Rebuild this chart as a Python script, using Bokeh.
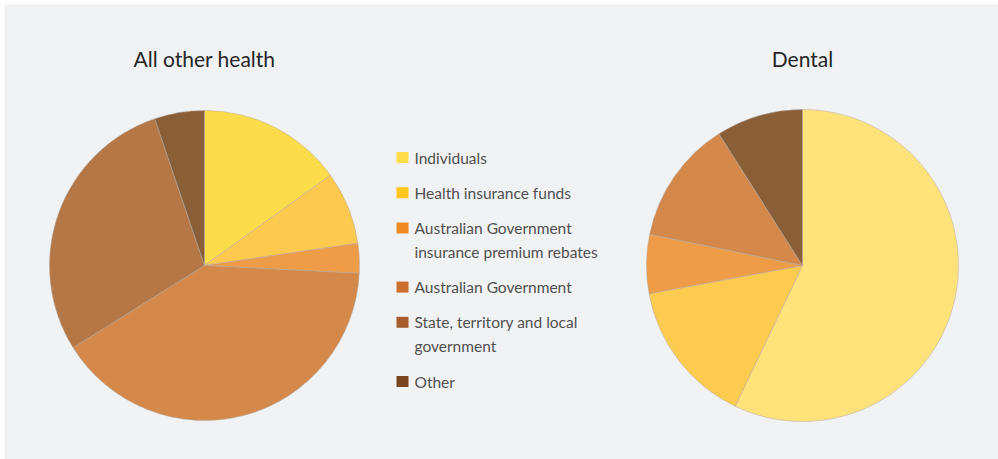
import math
from bokeh.plotting import figure
from bokeh.models import ColumnDataSource, Range1d
from bokeh.core.properties import value
from bokeh.embed import file_html
from bokeh.resources import INLINE

# ---- data ----
categories = [
    "Individuals",
    "Health insurance funds",
    "Australian Government\ninsurance premium rebates",
    "Australian Government",
    "State, territory and local\ngovernment",
    "Other",
]
all_other_health = [15.1, 7.6, 3.1, 40.3, 28.7, 5.2]
dental = [57.1, 15.0, 6.1, 12.8, 0.0, 9.0]
titles = ["All other health", "Dental"]

# ---- styles ----
legend_colors = ["#FFDD4A", "#FFC61E", "#F08A26", "#CC6E2E", "#A95D2D", "#7A4622"]
left_colors = ["#FDDC4B", "#FDC94E", "#EE9C48", "#D4884A", "#B57746", "#8A5E36"]
right_colors = ["#FFE27A", "#FDCB50", "#EE9C48", "#D4884A", "#B57746", "#8A5E36"]
FONT = "Lato"
W, H = 998, 459

p = figure(width=W, height=H, output_backend="svg", toolbar_location=None,
           x_range=Range1d(4, W), y_range=Range1d(0, H - 4),
           x_axis_location=None, y_axis_location=None,
           min_border_left=4, min_border_top=4, min_border_right=0, min_border_bottom=0)
p.grid.visible = False
p.outline_line_color = None
p.border_fill_color = "white"
p.background_fill_color = "#F1F2F4"


def sy(screen_y):
    return H - screen_y


def add_pie(vals, colors, cx, cy, r):
    total = float(sum(vals))
    starts, ends, cols = [], [], []
    cum = 0.0
    for v, c in zip(vals, colors):
        if v <= 0:
            continue
        a0 = math.pi / 2 - 2 * math.pi * (cum + v) / total
        a1 = math.pi / 2 - 2 * math.pi * cum / total
        starts.append(a0)
        ends.append(a1)
        cols.append(c)
        cum += v
    src = ColumnDataSource(dict(x=[cx] * len(starts), y=[cy] * len(starts),
                                start=starts, end=ends, color=cols))
    p.wedge(x="x", y="y", radius=r, start_angle="start", end_angle="end",
            fill_color="color", line_color="#B3ADA4", line_width=0.5,
            source=src)


add_pie(all_other_health, left_colors, 204, sy(265), 155)
add_pie(dental, right_colors, 802, sy(265), 156)

# titles
p.text(x=[204, 802], y=[sy(58), sy(58)], text=titles,
       text_font=value(FONT), text_font_size="21px", text_color="#262626",
       text_align="center", text_baseline="middle")

# legend
sq_x, sq_y, tx, ty, tt = [], [], [], [], []
y = 157
for lab in categories:
    lines = lab.split("\n")
    sq_x.append(402)
    sq_y.append(sy(y))
    for i, ln in enumerate(lines):
        tx.append(414)
        ty.append(sy(y + 24 * i))
        tt.append(ln)
    y += 35.2 + 24 * (len(lines) - 1)

p.rect(x=sq_x, y=sq_y, width=12, height=11, fill_color=legend_colors, line_color=None)
p.text(x=tx, y=ty, text=tt, text_font=value(FONT), text_font_size="15.5px",
       text_color="#505050", text_align="left", text_baseline="middle")

open("out.html", "w").write(file_html(p, INLINE))
